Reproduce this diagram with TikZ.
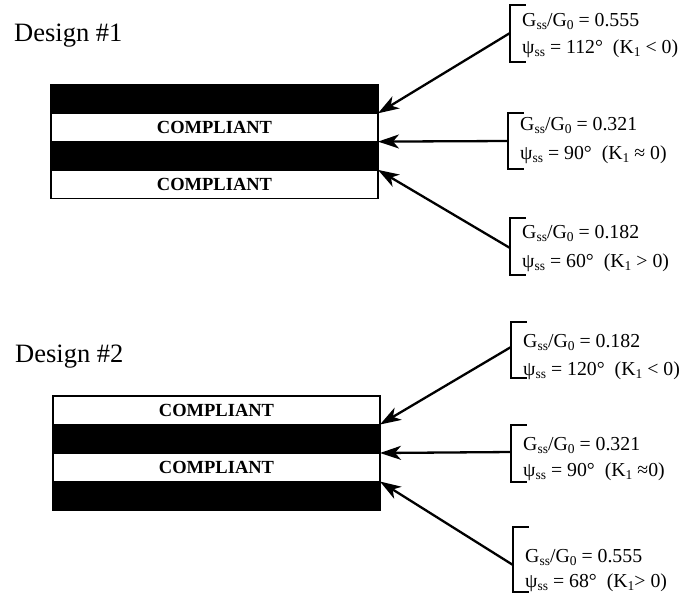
\documentclass[tikz,border=0pt]{standalone}
\usepackage{fontspec}
\setmainfont{Liberation Serif}
\usetikzlibrary{arrows.meta}
\newcommand\lsb[1]{\raisebox{-0.4ex}{\fontsize{13.5}{13.5}\selectfont #1}}
\newcommand\brlabel[9]{%
  \node[lbl] (#1a) at (#2+12,#6) {#8};
  \node[lbl] (#1b) at (#2+12,#7) {#9};
  \coordinate (#1t) at (#2,#3);
  \coordinate (#1u) at (#2,#4);
  \coordinate (#1) at (#2,#5);
  \draw[brk] ([xshift=15pt]#1t) -- (#1t) -- (#1u) -- ([xshift=15pt]#1u);
}
\tikzset{
  layer/.style={draw=black, line width=1.4pt, minimum width=327pt, minimum height=28.3pt,
    anchor=north west, inner sep=0pt, outer sep=0pt},
  blk/.style={layer, fill=black},
  wht/.style={layer, fill=white, font=\fontsize{18.5}{18.5}\selectfont\bfseries},
  lbl/.style={anchor=base west, inner sep=0pt, font=\fontsize{19.8}{22}\selectfont},
  ttl/.style={anchor=base west, inner sep=0pt, font=\fontsize{26.5}{28}\selectfont},
  arr/.style={-{Stealth[length=21pt,width=14pt,inset=6pt]}, line width=2.3pt},
  brk/.style={line width=2pt, line cap=rect}
}
\begin{document}
\begin{tikzpicture}[x=1pt,y=-1pt]
\useasboundingbox (0,0) rectangle (679,595);
% titles
\node[ttl] (t1) at (14,41) {Design \#1};
\node[ttl] (t2) at (15,362) {Design \#2};
% design 1 stack
\node[blk] (A1) at (51,85) {};
\node[wht] (A2) at (51,113.3) {COMPLIANT};
\node[blk] (A3) at (51,141.6) {};
\node[wht] (A4) at (51,169.9) {COMPLIANT};
% design 2 stack
\node[wht, minimum height=28.5pt] (B1) at (53,396) {COMPLIANT};
\node[blk, minimum height=28.5pt] (B2) at (53,424.5) {};
\node[wht, minimum height=28.5pt] (B3) at (53,453) {COMPLIANT};
\node[blk, minimum height=28.5pt] (B4) at (53,481.5) {};
% labels
\brlabel{c1}{510}{5}{62}{33}{26}{53}{G\lsb{ss}/G\lsb{0} = 0.555}{ψ\lsb{ss} = 112°\hspace{0.5em}(K\lsb{1} < 0)}
\brlabel{c2}{508}{113}{169}{141}{130}{159}{G\lsb{ss}/G\lsb{0} = 0.321}{ψ\lsb{ss} = 90°\hspace{0.5em}(K\lsb{1} ≈ 0)}
\brlabel{c3}{510}{218}{275}{248}{238}{267}{G\lsb{ss}/G\lsb{0} = 0.182}{ψ\lsb{ss} = 60°\hspace{0.5em}(K\lsb{1} > 0)}
\brlabel{c4}{511}{322}{378}{347}{347}{375}{G\lsb{ss}/G\lsb{0} = 0.182}{ψ\lsb{ss} = 120°\hspace{0.5em}(K\lsb{1} < 0)}
\brlabel{c5}{511}{425}{482}{452}{450}{476}{G\lsb{ss}/G\lsb{0} = 0.321}{ψ\lsb{ss} = 90°\hspace{0.5em}(K\lsb{1} ≈0)}
\brlabel{c6}{513}{527}{592}{565}{562}{587}{G\lsb{ss}/G\lsb{0} = 0.555}{ψ\lsb{ss} = 68°\hspace{0.5em}(K\lsb{1}> 0)}
% arrows
\draw[arr] (c1) -- (A1.south east);
\draw[arr] (c2) -- (A2.south east);
\draw[arr] (c3) -- (A3.south east);
\draw[arr] (c4) -- (B1.south east);
\draw[arr] (c5) -- (B2.south east);
\draw[arr] (c6) -- (B3.south east);
\end{tikzpicture}
\end{document}
